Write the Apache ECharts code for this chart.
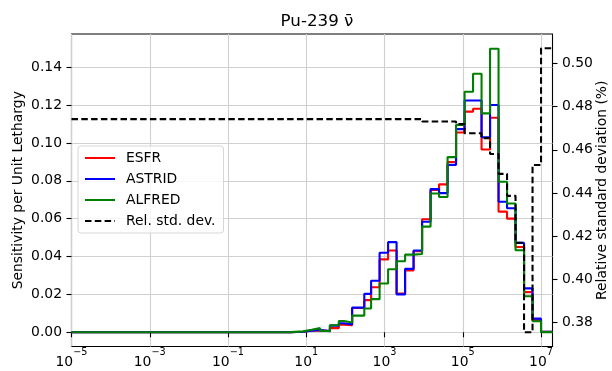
<!DOCTYPE html>
<html>
<head>
<meta charset="utf-8">
<script src="https://cdn.jsdelivr.net/npm/echarts@6/dist/echarts.min.js"></script>
<style>
  html, body { margin: 0; padding: 0; background: #ffffff; }
  #chart { width: 612px; height: 371px; }
</style>
</head>
<body>
<div id="chart"></div>
<script>
// 33-group energy structure, boundaries in eV (ascending)
const energyBounds = [1e-5, 0.1, 0.54, 4.0, 8.315, 13.71, 22.60, 40.17, 67.90, 91.66,
  148.6, 304.3, 454.0, 748.5, 1234, 2035, 3355, 5531, 9119, 15030,
  24790, 40870, 67380, 111100, 183200, 302000, 497900, 820900, 1353000, 2231000,
  3679000, 6065000, 1.0e7, 1.964e7];

// Sensitivity per unit lethargy, one value per group (low -> high energy)
const esfr = [0, 0, 0, 0.0003, 0.0008, 0.0010, 0.0007, 0.0022, 0.0040, 0.0037,
  0.0128, 0.0170, 0.0238, 0.0385, 0.0432, 0.0205, 0.0327, 0.0428, 0.0597, 0.0752,
  0.0781, 0.0899, 0.1055, 0.1165, 0.1180, 0.0965, 0.1133, 0.0637, 0.0600, 0.0450,
  0.0212, 0.0065, 0.0002];
const astrid = [0, 0, 0, 0.0003, 0.0009, 0.0012, 0.0006, 0.0035, 0.0048, 0.0042,
  0.0130, 0.0203, 0.0272, 0.0420, 0.0476, 0.0200, 0.0335, 0.0432, 0.0584, 0.0756,
  0.0735, 0.0884, 0.1073, 0.1224, 0.1224, 0.1030, 0.1200, 0.0689, 0.0655, 0.0472,
  0.0232, 0.0072, 0.0002];
const alfred = [0, 0, 0.0001, 0.0005, 0.0013, 0.0022, 0.0007, 0.0037, 0.0060, 0.0052,
  0.0088, 0.0126, 0.0175, 0.0258, 0.0333, 0.0375, 0.0410, 0.0413, 0.0558, 0.0733,
  0.0714, 0.0925, 0.1095, 0.1270, 0.1365, 0.1156, 0.1497, 0.0795, 0.0680, 0.0433,
  0.0190, 0.0058, 0.0001];

// Relative standard deviation of nu-bar (%), one value per group
const relStd = [0.4742, 0.4742, 0.4742, 0.4742, 0.4742, 0.4742, 0.4742, 0.4742, 0.4742, 0.4742,
  0.4742, 0.4742, 0.4742, 0.4742, 0.4742, 0.4742, 0.4742, 0.4742, 0.4731, 0.4731,
  0.4731, 0.4731, 0.4719, 0.4677, 0.4677, 0.4654, 0.4581, 0.4489, 0.4387, 0.4170,
  0.3756, 0.4530, 0.5070];

// Tick positions
const xTicks = [1e-5, 1e-3, 1e-1, 1e1, 1e3, 1e5, 1e7];
const leftTicks = [0, 0.02, 0.04, 0.06, 0.08, 0.10, 0.12, 0.14];
const rightTicks = [0.38, 0.40, 0.42, 0.44, 0.46, 0.48, 0.50];

const FONT = 'DejaVu Sans';

// Histogram-style points: each group value starts at its lower bound,
// the last value is repeated at the top boundary to close the final step.
function stepPoints(vals) {
  const pts = vals.map((v, i) => [energyBounds[i], v]);
  pts.push([energyBounds[energyBounds.length - 1], vals[vals.length - 1]]);
  return pts;
}

function powLabel(v) {
  const e = Math.round(Math.log10(v));
  const s = e < 0 ? '\u2212' + Math.abs(e) : String(e);
  return '{b|10}{s|' + s + '}';
}

const chart = echarts.init(document.getElementById('chart'), null, { renderer: 'canvas' });

const lineBase = { type: 'line', step: 'end', showSymbol: false, symbol: 'none', animation: false };

chart.setOption({
  animation: false,
  backgroundColor: '#ffffff',
  textStyle: { fontFamily: FONT },
  title: {
    text: 'Pu-239 \u03BD\u0304',
    left: 312,
    textAlign: 'center',
    top: 8,
    textStyle: { fontFamily: FONT, fontSize: 16.7, fontWeight: 'normal', color: '#000' }
  },
  grid: {
    left: 71.5, right: 59.5, top: 34, bottom: 24.5,
    outerBoundsMode: 'none',
    containLabel: false,
    show: true, borderColor: '#000', borderWidth: 1.1, backgroundColor: 'transparent'
  },
  legend: {
    orient: 'vertical',
    left: 78, top: 146,
    itemWidth: 30, itemHeight: 14, itemGap: 7,
    padding: [5, 8, 5, 6],
    borderColor: '#d6d6d6', borderWidth: 1, borderRadius: 3,
    backgroundColor: 'rgba(255,255,255,0.8)',
    itemStyle: { opacity: 0, borderWidth: 0 },
    textStyle: { fontFamily: FONT, fontSize: 13.9, color: '#000', padding: [0, 0, 0, 6] },
    data: ['ESFR', 'ASTRID', 'ALFRED', 'Rel. std. dev.']
  },
  xAxis: {
    type: 'log', logBase: 10, min: 1e-5, max: 1.964e7,
    axisLine: { show: false },
    axisTick: { show: true, length: 5, customValues: xTicks, lineStyle: { color: '#000', width: 1.1 } },
    axisLabel: {
      customValues: xTicks, margin: 1, color: '#000', fontFamily: FONT,
      formatter: powLabel,
      rich: {
        b: { fontFamily: FONT, fontSize: 13.9, color: '#000', lineHeight: 22, verticalAlign: 'bottom' },
        s: { fontFamily: FONT, fontSize: 9.7, color: '#000', lineHeight: 12, verticalAlign: 'top' }
      }
    },
    splitLine: { show: true, lineStyle: { color: '#d0d0d0', width: 1.1 } }
  },
  yAxis: [
    {
      type: 'value', min: -0.0075, max: 0.1575,
      name: 'Sensitivity per Unit Lethargy', nameLocation: 'middle', nameGap: 46,
      nameMoveOverlap: false,
      nameTextStyle: { fontFamily: FONT, fontSize: 13.9, color: '#000' },
      axisLine: { show: false },
      axisTick: { show: true, length: 5, customValues: leftTicks, lineStyle: { color: '#000', width: 1.1 } },
      axisLabel: {
        customValues: leftTicks, margin: 9.5, color: '#000', fontFamily: FONT, fontSize: 13.9,
        formatter: v => v.toFixed(2)
      },
      splitLine: { show: true, lineStyle: { color: '#d0d0d0', width: 1.1 } }
    },
    {
      type: 'value', min: 0.369, max: 0.5136, position: 'right',
      name: 'Relative standard deviation (%)', nameLocation: 'middle', nameGap: 43,
      nameMoveOverlap: false,
      nameTextStyle: { fontFamily: FONT, fontSize: 13.9, color: '#000' },
      axisLine: { show: false },
      axisTick: { show: true, length: 5, customValues: rightTicks, lineStyle: { color: '#000', width: 1.1 } },
      axisLabel: {
        customValues: rightTicks, margin: 9.5, color: '#000', fontFamily: FONT, fontSize: 13.9,
        formatter: v => v.toFixed(2)
      },
      splitLine: { show: false }
    }
  ],
  series: [
    Object.assign({}, lineBase, { name: 'ESFR', data: stepPoints(esfr), yAxisIndex: 0,
      color: '#ff0000', lineStyle: { color: '#ff0000', width: 2.1 } }),
    Object.assign({}, lineBase, { name: 'ASTRID', data: stepPoints(astrid), yAxisIndex: 0,
      color: '#0000ff', lineStyle: { color: '#0000ff', width: 2.1 } }),
    Object.assign({}, lineBase, { name: 'ALFRED', data: stepPoints(alfred), yAxisIndex: 0,
      color: '#008000', lineStyle: { color: '#008000', width: 2.1 } }),
    Object.assign({}, lineBase, { name: 'Rel. std. dev.', data: stepPoints(relStd), yAxisIndex: 1,
      color: '#000000', lineStyle: { color: '#000000', width: 2.1, type: [6.5, 3.3] } })
  ]
});
</script>
</body>
</html>
